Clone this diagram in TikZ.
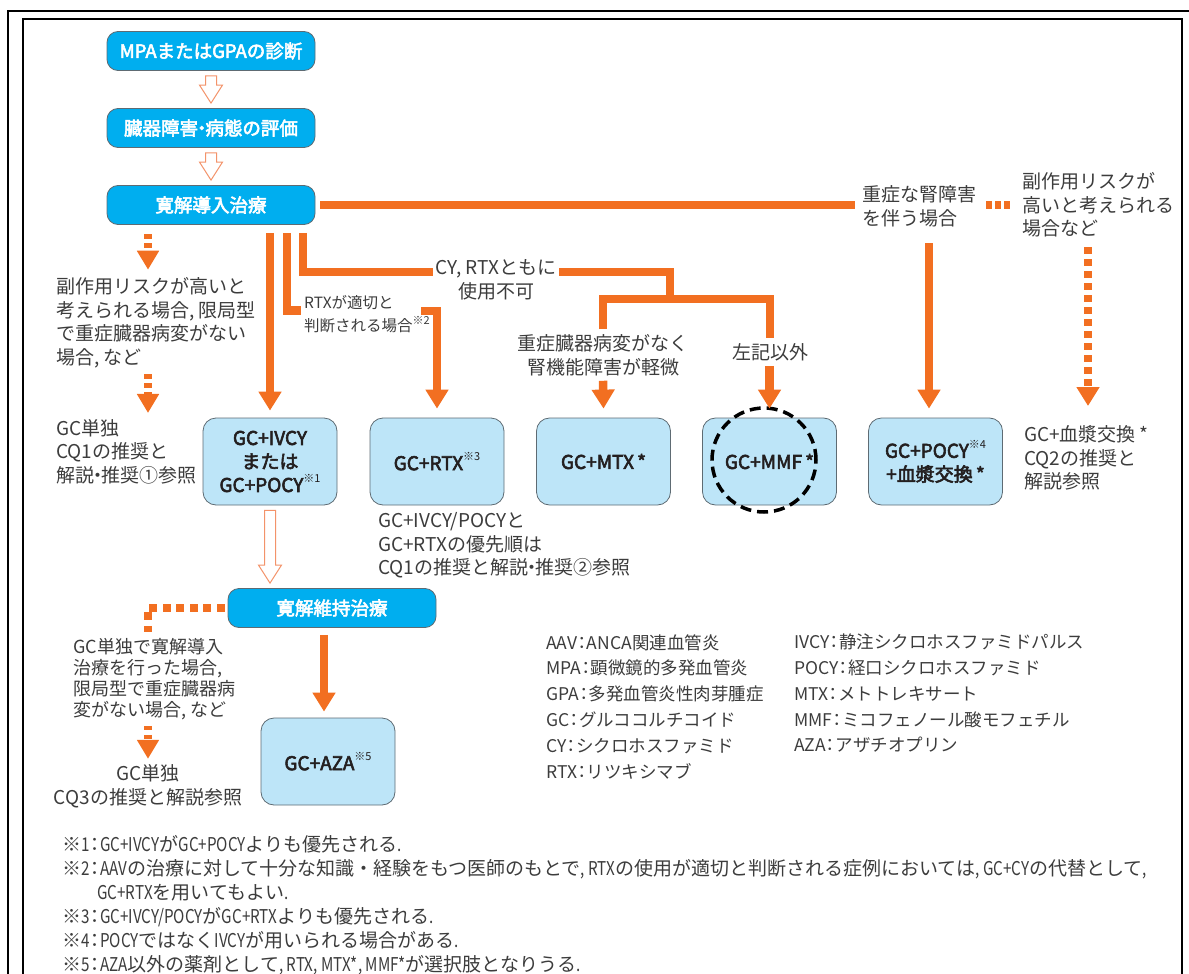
\documentclass[tikz,border=0pt]{standalone}
\usepackage{fontspec}
\setmainfont{Noto Sans CJK JP}
\newfontfamily\medfont[FakeBold=3]{Noto Sans CJK JP}
\newfontfamily\narrowlat[FakeStretch=0.8]{Noto Sans CJK JP}
\usetikzlibrary{arrows.meta,calc}
\definecolor{cyanbox}{HTML}{00AEEF}
\definecolor{boxline}{HTML}{5E6B73}
\definecolor{lightbox}{HTML}{BDE5F8}
\definecolor{orng}{HTML}{F26F21}
\definecolor{hollowc}{HTML}{F3936A}
\definecolor{labtext}{HTML}{3C3C3C}
\definecolor{boxtext}{HTML}{231F20}
\newcommand{\sups}[1]{\raisebox{0.5em}{\normalfont\fontsize{11}{11}\selectfont #1}}
\newcommand{\nk}{\kern-0.3em・\kern-0.3em}
\newcommand{\cl}{\kern-0.22em：\kern-0.22em}
\newcommand{\nl}[1]{{\narrowlat #1}}
\newcommand{\hollowarrow}[2]{%
  \draw[hollow] let \p1=(#1.south), \p2=(#2.north) in
  (\x1-5.5pt,\y1-5pt) -- (\x1+5.5pt,\y1-5pt) -- (\x1+5.5pt,\y2+23pt) -- (\x1+11.5pt,\y2+23pt)
  -- (\x1,\y2+5pt) -- (\x1-11.5pt,\y2+23pt) -- (\x1-5.5pt,\y2+23pt) -- cycle;}
\begin{document}
\begin{tikzpicture}[x=1pt,y=-1pt,
  cbox/.style={rounded corners=11pt, fill=cyanbox, draw=boxline, line width=0.8pt,
    minimum width=208pt, minimum height=39pt, text=white, inner sep=0pt,
    font=\medfont\fontsize{18.5}{22}\selectfont},
  lbox/.style={rounded corners=13pt, fill=lightbox, draw=boxline, line width=0.8pt,
    minimum width=134pt, minimum height=87pt, text=boxtext, inner sep=0pt, align=center,
    font=\medfont\fontsize{19}{23.5}\selectfont},
  lab/.style={text=labtext, inner sep=0pt, align=left, anchor=west,
    font=\fontsize{19}{23.5}\selectfont},
  clab/.style={lab, align=center, anchor=center},
  oline/.style={draw=orng, line width=8.5pt},
  oarrow/.style={oline, -{Triangle[width=22pt,length=19pt]}},
  odash/.style={oline, dash pattern=on 7pt off 5pt, -{Triangle[width=22pt,length=19pt]}},
  sdash/.style={oline, dash pattern=on 4.5pt off 4.5pt, -{Triangle[width=21pt,length=19pt]}},
  hdots/.style={oline, dash pattern=on 8pt off 5.5pt},
  kdots/.style={oline, dash pattern=on 6pt off 3pt},
  hollow/.style={draw=hollowc, line width=1pt, fill=white},
  ring/.style={draw=black, line width=3.5pt, dash pattern=on 11pt off 6pt}
]
\useasboundingbox (0,0) rectangle (1189,974);
% frame
\draw[line width=2.5pt] (7,11) -- (1189,11);
\draw[line width=2.5pt] (8,11) -- (8,974);
\draw[line width=2pt] (23,974) -- (23,19) -- (1182,19) -- (1182,974);

% main boxes
\node[cbox] (diag) at (211,51) {MPAまたはGPAの診断};
\node[cbox] (eval) at (211,128) {臓器障害\nk 病態の評価};
\node[cbox] (ind) at (211,205) {寛解導入治療};
\node[cbox] (maint) at (332,608) {寛解維持治療};

\node[lbox] (ivcy) at (270,461.5) {GC+IVCY\\または\\GC+POCY\sups{※1}};
\node[lbox] (rtx) at (437,461.5) {GC+RTX\sups{※3}};
\node[lbox] (mtx) at (603.5,461.5) {GC+MTX\,*};
\node[lbox] (mmf) at (769.5,461.5) {GC+MMF\,*};
\node[lbox] (pocy) at (935.5,461.5) {GC+POCY\sups{※4}\\+血漿交換\,*};
\node[lbox] (aza) at (328,761.5) {GC+AZA\sups{※5}};
\draw[ring] (764,460) circle (52pt);

% labels
\node[lab] (lrisk) at (56,323) {副作用リスクが高いと\\考えられる場合, 限局型\\で重症臓器病変がない\\場合, など};
\node[lab] (gc1) at (56,451.5) {GC単独\\CQ1の推奨と\\解説\nk 推奨①参照};
\node[lab] (kid) at (862,206.5) {重症な腎障害\\を伴う場合};
\node[lab] (rrisk) at (1022,205) {副作用リスクが\\高いと考えられる\\場合など};
\node[lab] (pe) at (1024,458) {GC+血漿交換\,*\\CQ2の推奨と\\解説参照};
\node[lab, font=\fontsize{15.5}{23}\selectfont] (rtxlab) at (304,314.5) {RTXが適切と\\判断される場合\sups{※2}};
\node[clab] (cylab) at (496,280) {CY, RTXともに\\使用不可};
\node[clab] (mtxcond) at (603,355) {重症臓器病変がなく\\腎機能障害が軽微};
\node[clab] (other) at (770,352) {左記以外};
\node[lab] (prio) at (378,545.5) {GC+IVCY/POCYと\\GC+RTXの優先順は\\CQ1の推奨と解説\nk 推奨②参照};
\node[lab, font=\fontsize{18}{21}\selectfont] (mrisk) at (73,679) {GC単独で寛解導入\\治療を行った場合,\\限局型で重症臓器病\\変がない場合, など};
\node[clab] (gc3) at (148,786.5) {GC単独\\CQ3の推奨と解説参照};

% legend
\node[lab, font=\fontsize{17.5}{25.8}\selectfont] (legl) at (546,706.5)
 {AAV\cl ANCA関連血管炎\\MPA\cl 顕微鏡的多発血管炎\\GPA\cl 多発血管炎性肉芽腫症\\GC\cl グルココルチコイド\\CY\cl シクロホスファミド\\RTX\cl リツキシマブ};
\node[lab, font=\fontsize{17.5}{25.8}\selectfont] (legr) at (794,693.5)
 {IVCY\cl 静注シクロホスファミドパルス\\POCY\cl 経口シクロホスファミド\\MTX\cl メトトレキサート\\MMF\cl ミコフェノール酸モフェチル\\AZA\cl アザチオプリン};

% footnotes
\node[lab, font=\fontsize{19}{24}\selectfont] (notes) at (62,905)
 {※\nl{1}\cl\nl{GC+IVCY}が\nl{GC+POCY}よりも優先される\nl{.}\\
  ※\nl{2}\cl\nl{AAV}の治療に対して十分な知識・経験をもつ医師のもとで\nl{, RTX}の使用が適切と判断される症例においては\nl{, GC+CY}の代替として\nl{,}\\
  \hspace*{35pt}\nl{GC+RTX}を用いてもよい\nl{.}\\
  ※\nl{3}\cl\nl{GC+IVCY/POCY}が\nl{GC+RTX}よりも優先される\nl{.}\\
  ※\nl{4}\cl\nl{POCY}ではなく\nl{IVCY}が用いられる場合がある\nl{.}\\
  ※\nl{5}\cl\nl{AZA}以外の薬剤として\nl{, RTX, MTX*, MMF*}が選択肢となりうる\nl{.}};

% hollow arrows
\hollowarrow{diag}{eval}
\hollowarrow{eval}{ind}
\hollowarrow{ivcy}{maint}

% orange connectors
\draw[oline] ([xshift=5pt]ind.east) -- ($(ind.east -| kid.west)+(-7pt,0pt)$);
\draw[kdots] ($(ind.east -| kid.east)+(10pt,0pt)$) -- ($(ind.east -| rrisk.west)+(-10pt,0pt)$);
\coordinate (k1) at (929,243);
\draw[oarrow] (k1) -- ($(k1 |- pocy.north)+(0pt,9pt)$);
\coordinate (r1) at (1088,247);
\draw[odash] (r1) -- (1088,406);

\draw[oarrow] ([xshift=59pt,yshift=-8pt]ind.south) -- ([yshift=7pt]ivcy.north);
\draw[oline] ([xshift=76pt,yshift=-8pt]ind.south) |- ($(rtxlab.west)+(-3pt,4pt)$);
\coordinate (b1) at (421,311);
\draw[oarrow] (b1) -| ([yshift=9pt]rtx.north);

\coordinate (cB) at (433,272);
\coordinate (cC) at (559,272);
\coordinate (cE) at (670,299);
\draw[oline] ([xshift=92pt,yshift=-8pt]ind.south) |- (cB);
\draw[oline] (cC) -| (cE);
\draw[oline] ($(mtxcond.north)+(0pt,5pt)$) |- (770,299) -- ($(other.north -| 770,0)+(0pt,5pt)$);
\draw[oarrow] ($(mtxcond.south)+(0pt,-5pt)$) -- ([yshift=9pt]mtx.north);
\draw[oarrow] ($(other.south -| mmf.north)+(0pt,-5pt)$) -- ([yshift=9pt]mmf.north);

% left dashed paths
\draw[sdash] (148,234) -- ($(lrisk.north -| 148,0)+(0pt,8pt)$);
\draw[sdash] ($(lrisk.south -| 148,0)+(0pt,-6pt)$) -- ($(gc1.north -| 148,0)+(0pt,6pt)$);
\draw[hdots] ([xshift=-3pt]maint.west) -| ($(mrisk.north -| 148,0)+(0pt,6pt)$);
\draw[sdash] ($(mrisk.south -| 148,0)+(0pt,-6pt)$) -- ($(gc3.north)+(0pt,6pt)$);
\draw[oarrow] ([xshift=-8pt,yshift=-7pt]maint.south) -- ([xshift=-4pt,yshift=6pt]aza.north);
\end{tikzpicture}
\end{document}
